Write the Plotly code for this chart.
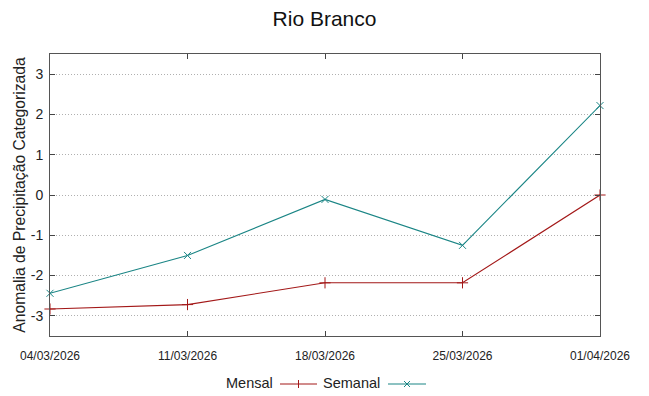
import plotly.graph_objects as go

dates = ["04/03/2026", "11/03/2026", "18/03/2026", "25/03/2026", "01/04/2026"]
mensal = [-2.83, -2.72, -2.18, -2.18, 0.0]
semanal = [-2.44, -1.50, -0.11, -1.25, 2.22]
y_ticks = [-3, -2, -1, 0, 1, 2, 3]

RED = "#a31818"
TEAL = "#1a8585"
FONT = "Liberation Sans, Arial, sans-serif"

fig = go.Figure()
fig.add_trace(go.Scatter(
    x=dates, y=mensal, mode="lines+markers", name="Mensal",
    line=dict(color=RED, width=1.1),
    marker=dict(symbol="cross-thin", size=8, line=dict(color=RED, width=1)),
    showlegend=False, cliponaxis=False))
fig.add_trace(go.Scatter(
    x=dates, y=semanal, mode="lines+markers", name="Semanal",
    line=dict(color=TEAL, width=1.1),
    marker=dict(symbol="x-thin", size=7, line=dict(color=TEAL, width=1)),
    showlegend=False, cliponaxis=False))

# gnuplot-style legend below the plot (text left of sample)
def px(x):
    return (x - 50) / 550

def py(y):
    return (336 - y) / 282

fig.add_annotation(xref="paper", yref="paper", x=px(275), y=py(383),
                   text="Mensal", showarrow=False, xanchor="right", yanchor="middle",
                   font=dict(family=FONT, size=14.5, color="#222"))
fig.add_annotation(xref="paper", yref="paper", x=px(382), y=py(383),
                   text="Semanal", showarrow=False, xanchor="right", yanchor="middle",
                   font=dict(family=FONT, size=14.5, color="#222"))
ly = 384
for x0, x1, col, kind in [(280, 317, RED, "plus"), (388, 426, TEAL, "x")]:
    fig.add_shape(type="line", xref="paper", yref="paper",
                  x0=px(x0), x1=px(x1), y0=py(ly), y1=py(ly),
                  line=dict(color=col, width=1))
    cx = (x0 + x1) / 2
    if kind == "plus":
        fig.add_shape(type="line", xref="paper", yref="paper",
                      x0=px(cx), x1=px(cx), y0=py(ly - 4), y1=py(ly + 4),
                      line=dict(color=col, width=1))
    else:
        for s in (1, -1):
            fig.add_shape(type="line", xref="paper", yref="paper",
                          x0=px(cx - 3), x1=px(cx + 3),
                          y0=py(ly - 3 * s), y1=py(ly + 3 * s),
                          line=dict(color=col, width=1))

fig.update_layout(
    width=649, height=396,
    margin=dict(l=50, r=49, t=54, b=60),
    paper_bgcolor="white", plot_bgcolor="white",
    font=dict(family=FONT, color="#222"),
    title=dict(text="Rio Branco", x=0.5, xanchor="center", y=1 - 19 / 396, yanchor="middle",
               font=dict(family=FONT, size=21, color="#111")),
    showlegend=False,
    hovermode=False,
)
fig.update_xaxes(
    type="category", range=[0, 4], showgrid=False, automargin=False,
    showline=True, linecolor="#555", linewidth=1, mirror="ticks",
    ticks="inside", ticklen=5, tickcolor="#444", ticklabelstandoff=9,
    tickfont=dict(family=FONT, size=12, color="#222"), zeroline=False,
)
fig.update_yaxes(
    range=[-3.5, 3.5], tickvals=y_ticks, ticktext=[str(v) for v in y_ticks],
    automargin=False,
    showgrid=True, gridcolor="#b0b0b0", griddash="1px,2px", gridwidth=1,
    showline=True, linecolor="#555", linewidth=1, mirror="ticks",
    ticks="inside", ticklen=5, tickcolor="#444", ticklabelstandoff=3,
    tickfont=dict(family=FONT, size=14, color="#222"), zeroline=False,
    title=dict(text="Anomalia de Precipitação Categorizada", standoff=1,
               font=dict(family=FONT, size=15.7, color="#222")),
)

fig.write_html("out.html", config={"displayModeBar": False, "staticPlot": True},
               post_script="document.body.style.margin='0';document.body.style.padding='0';")
